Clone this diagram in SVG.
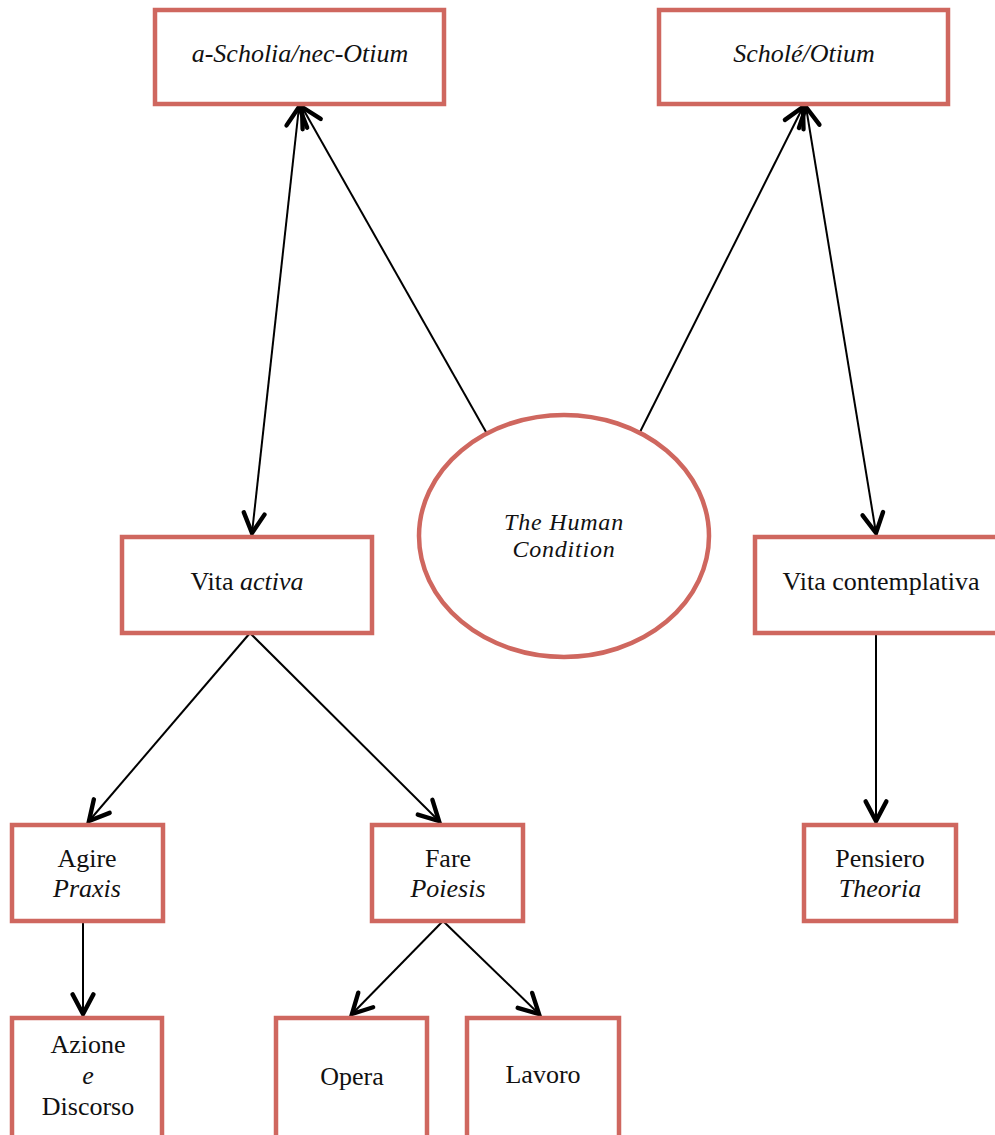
<svg xmlns="http://www.w3.org/2000/svg" width="995" height="1135" viewBox="0 0 995 1135">
<defs>
<style>
.box{fill:#fff;stroke:#cf675f;stroke-width:4.5}
.t{font-family:"Liberation Serif","Times New Roman",serif;font-size:26px;fill:#111;text-anchor:middle}
.i{font-style:italic}
.c{stroke:#000;stroke-width:2;fill:none}
</style>
<marker id="ah" markerUnits="userSpaceOnUse" markerWidth="30" markerHeight="30" refX="0" refY="0" viewBox="-22 -13 26 26" orient="auto-start-reverse">
<path d="M-17,-9 L0,0 L-17,9" fill="none" stroke="#000" stroke-width="3.8" stroke-linecap="round" stroke-linejoin="miter"/>
</marker>
</defs>
<rect width="995" height="1135" fill="#fff"/>
<g id="connectors">
<line class="c" x1="252" y1="533" x2="299" y2="107" marker-start="url(#ah)" marker-end="url(#ah)"/>
<line class="c" x1="490" y1="439" x2="302" y2="107" marker-end="url(#ah)"/>
<line class="c" x1="636" y1="440" x2="803" y2="107" marker-end="url(#ah)"/>
<line class="c" x1="876" y1="533" x2="806" y2="107" marker-start="url(#ah)" marker-end="url(#ah)"/>
<line class="c" x1="250" y1="633" x2="89" y2="821" marker-end="url(#ah)"/>
<line class="c" x1="250" y1="633" x2="439" y2="821" marker-end="url(#ah)"/>
<line class="c" x1="876" y1="633" x2="876" y2="821" marker-end="url(#ah)"/>
<line class="c" x1="83" y1="921" x2="83" y2="1014" marker-end="url(#ah)"/>
<line class="c" x1="443" y1="921" x2="352" y2="1014" marker-end="url(#ah)"/>
<line class="c" x1="443" y1="921" x2="539" y2="1014" marker-end="url(#ah)"/>
</g>
<g id="a-scholia">
<rect class="box" x="155" y="10" width="289" height="94"/>
<text class="t i" x="300" y="62">a-Scholia/nec-Otium</text>
</g>
<g id="schole">
<rect class="box" x="659" y="10" width="289" height="94"/>
<text class="t i" x="804" y="62">Scholé/Otium</text>
</g>
<g id="human-condition">
<ellipse cx="564" cy="536" rx="145" ry="121" fill="#fff" stroke="#cf675f" stroke-width="4.5"/>
<text class="t i" x="564" y="530" style="font-size:24px;letter-spacing:0.8px">The Human</text>
<text class="t i" x="564" y="557" style="font-size:24px;letter-spacing:0.8px">Condition</text>
</g>
<g id="vita-activa">
<rect class="box" x="122" y="537" width="250" height="96"/>
<text class="t" x="247" y="590">Vita <tspan class="i">activa</tspan></text>
</g>
<g id="vita-contemplativa">
<rect class="box" x="755" y="537" width="250" height="96"/>
<text class="t" x="881" y="590">Vita contemplativa</text>
</g>
<g id="agire">
<rect class="box" x="12" y="825" width="151" height="96"/>
<text class="t" x="87" y="867">Agire</text>
<text class="t i" x="87" y="897">Praxis</text>
</g>
<g id="fare">
<rect class="box" x="372" y="825" width="151" height="96"/>
<text class="t" x="448" y="867">Fare</text>
<text class="t i" x="448" y="897">Poiesis</text>
</g>
<g id="pensiero">
<rect class="box" x="804" y="825" width="152" height="96"/>
<text class="t" x="880" y="867">Pensiero</text>
<text class="t i" x="880" y="897">Theoria</text>
</g>
<g id="azione">
<rect class="box" x="12" y="1018" width="150" height="130"/>
<text class="t" x="88" y="1053">Azione</text>
<text class="t i" x="88" y="1084">e</text>
<text class="t" x="88" y="1115">Discorso</text>
</g>
<g id="opera">
<rect class="box" x="276" y="1018" width="151" height="130"/>
<text class="t" x="352" y="1085">Opera</text>
</g>
<g id="lavoro">
<rect class="box" x="467" y="1018" width="152" height="130"/>
<text class="t" x="543" y="1083">Lavoro</text>
</g>
</svg>
